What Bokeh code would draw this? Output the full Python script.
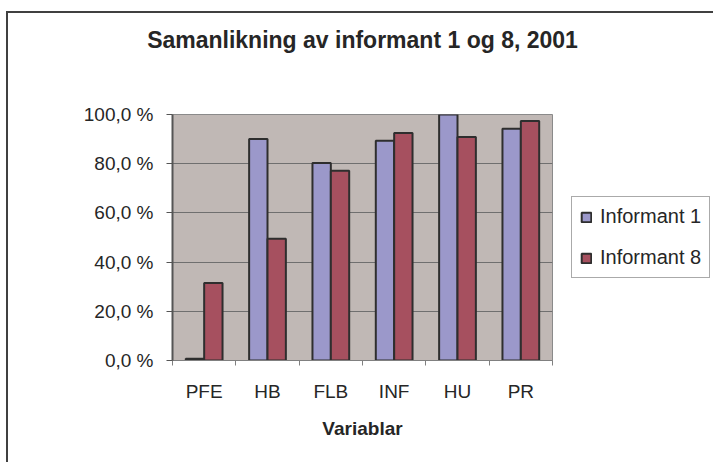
import numpy as np
from bokeh.plotting import figure
from bokeh.models import (Range1d, FixedTicker, CustomJSTickFormatter, Legend,
                          LegendItem, ColumnDataSource, Title)
from bokeh.transform import dodge
from bokeh.embed import file_html
from bokeh.resources import INLINE

# ---- data ----
categories = ["PFE", "HB", "FLB", "INF", "HU", "PR"]
informant_1 = [0.7, 90.0, 80.3, 89.3, 100.0, 94.2]
informant_8 = [31.5, 49.5, 77.1, 92.5, 90.9, 97.4]
series_names = ["Informant 1", "Informant 8"]
y_ticks = [0, 20, 40, 60, 80, 100]
chart_title = "Samanlikning av informant 1 og 8, 2001"
x_title = "Variablar"

FONT = "Liberation Sans"
TXT = "#262626"

centers = [i + 0.5 for i in range(len(categories))]
source = ColumnDataSource(dict(x=centers, cat=categories, s1=informant_1, s8=informant_8))

p = figure(frame_width=380, frame_height=246, output_backend="svg", toolbar_location=None,
           x_range=Range1d(0, len(categories)), y_range=Range1d(0, 100),
           min_border_left=164, min_border_right=0, min_border_top=0,
           min_border_bottom=102, background_fill_color="#C0B8B5",
           border_fill_color="white", outline_line_color="#8a8a8a",
           outline_line_width=1)
p.styles = {"border-left": "2px solid #404040", "border-top": "2px solid #404040",
            "margin-top": "11px", "margin-left": "6px"}

# spacer between title and plot area (closest to the frame)
p.add_layout(Title(text=" ", text_font_size="1px", standoff=48), "above")
p.add_layout(Title(text=chart_title, align="center", text_font=FONT,
                   text_font_size="23px", text_font_style="bold",
                   text_color=TXT, standoff=22), "above")

bw = 0.29
r1 = p.vbar(x=dodge("x", -bw / 2, range=p.x_range), top="s1", width=bw, source=source,
            fill_color="#9B98CA", line_color="#2e2e2e", line_width=2)
r8 = p.vbar(x=dodge("x", bw / 2, range=p.x_range), top="s8", width=bw, source=source,
            fill_color="#A6505F", line_color="#2e2e2e", line_width=2)

# y axis
p.yaxis.ticker = FixedTicker(ticks=y_ticks)
p.yaxis.formatter = CustomJSTickFormatter(code="return tick.toFixed(1).replace('.', ',') + ' %';")
p.yaxis.major_tick_in = 0
p.yaxis.major_tick_out = 6
p.yaxis.minor_tick_line_color = None
p.yaxis.axis_line_color = "#555555"
p.yaxis.axis_line_width = 2
p.yaxis.major_tick_line_color = "#555555"
p.yaxis.major_label_text_font = FONT
p.yaxis.major_label_text_font_size = "19px"
p.yaxis.major_label_text_color = TXT
p.yaxis.major_label_standoff = 13

# x axis: labels at category centres, tick marks at category boundaries
p.xaxis.ticker = FixedTicker(ticks=centers, minor_ticks=list(range(len(categories) + 1)))
p.xaxis.major_label_overrides = {c: name for c, name in zip(centers, categories)}
p.xaxis.major_tick_line_color = None
p.xaxis.major_tick_in = 0
p.xaxis.major_tick_out = 5
p.xaxis.minor_tick_in = 0
p.xaxis.minor_tick_out = 5
p.xaxis.minor_tick_line_color = "#808080"
p.xaxis.axis_line_color = "#808080"
p.xaxis.major_label_text_font = FONT
p.xaxis.major_label_text_font_size = "19px"
p.xaxis.major_label_text_color = TXT
p.xaxis.major_label_standoff = 15
p.xaxis.axis_label = x_title
p.xaxis.axis_label_text_font = FONT
p.xaxis.axis_label_text_font_size = "19px"
p.xaxis.axis_label_text_font_style = "bold"
p.xaxis.axis_label_text_color = TXT
p.xaxis.axis_label_standoff = 13

p.xgrid.grid_line_color = None
p.ygrid.ticker = FixedTicker(ticks=y_ticks)
p.ygrid.grid_line_color = "#6f6f6f"
p.ygrid.grid_line_width = 1

legend = Legend(items=[LegendItem(label=series_names[0], renderers=[r1]),
                       LegendItem(label=series_names[1], renderers=[r8])],
                location="left", orientation="vertical",
                border_line_color="#555555", border_line_width=1,
                background_fill_color="white", background_fill_alpha=1,
                label_text_font=FONT, label_text_font_size="20px",
                label_text_color=TXT, glyph_width=12, glyph_height=12,
                label_height=22, spacing=18, padding=8, margin=19,
                label_standoff=8)
p.add_layout(legend, "right")

open("out.html", "w").write(file_html(p, INLINE))
